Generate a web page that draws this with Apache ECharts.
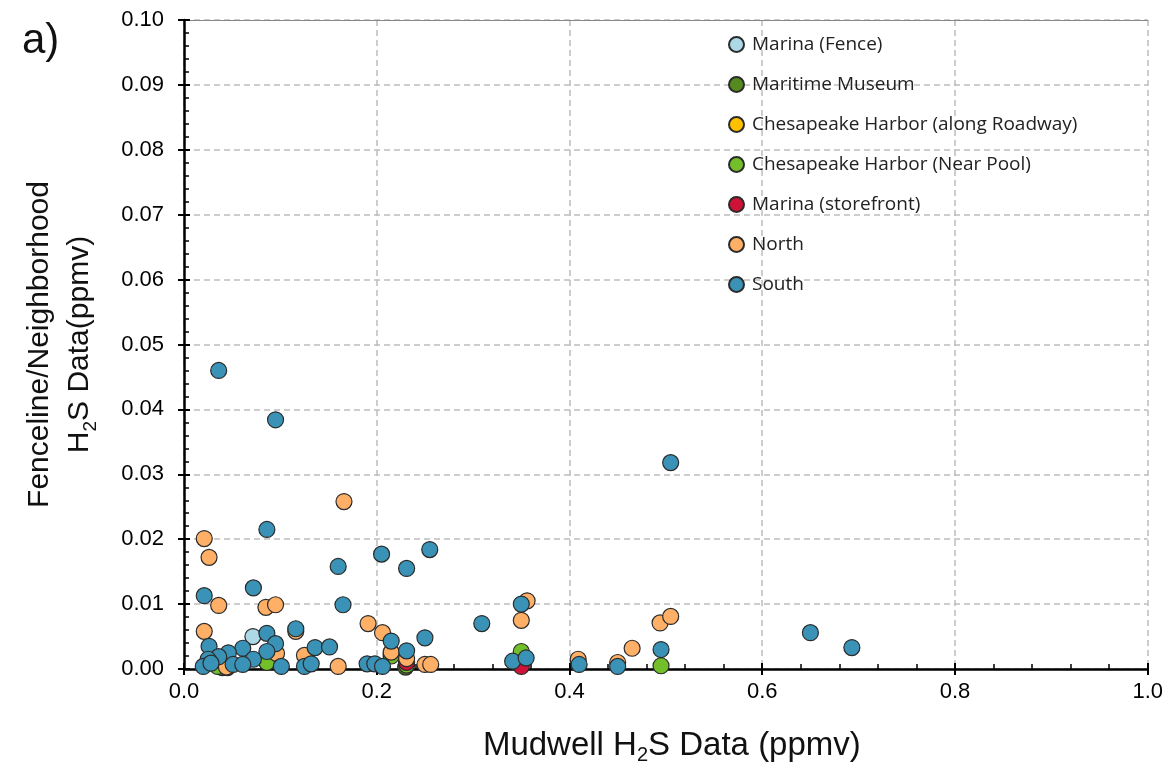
<!DOCTYPE html>
<html>
<head>
<meta charset="utf-8">
<script src="https://cdn.jsdelivr.net/npm/echarts@6/dist/echarts.min.js"></script>
<style>
  html, body { margin: 0; padding: 0; background: #fff; }
  #chart { width: 1166px; height: 770px; }
</style>
</head>
<body>
<div id="chart"></div>
<script>
  // site names, in legend order
  var siteNames = [
    'Marina (Fence)',
    'Maritime Museum',
    'Chesapeake Harbor (along Roadway)',
    'Chesapeake Harbor (Near Pool)',
    'Marina (storefront)',
    'North',
    'South'
  ];

  var siteColors = ['#add8e6', '#548a1e', '#ffc000', '#72bf2a', '#cf1238', '#ffb066', '#3a93b6'];

  // [mudwell, fenceline] pairs, ppmv
  var marinaFence = [[0.0715, 0.0050]];
  var maritimeMuseum = [[0.040, 0.0002], [0.230, 0.0003]];
  var harborRoadway = [[0.215, 0.0023], [0.231, 0.0012]];
  var harborPool = [[0.035, 0.0004], [0.086, 0.0010], [0.215, 0.0020], [0.231, 0.0006], [0.350, 0.0027], [0.495, 0.0005]];
  var marinaStore = [[0.045, 0.0002], [0.231, 0.0010], [0.350, 0.0004]];
  var north = [
    [0.166, 0.0258], [0.021, 0.0201], [0.026, 0.0172], [0.036, 0.0098], [0.085, 0.0095],
    [0.095, 0.0099], [0.021, 0.0058], [0.116, 0.0058], [0.096, 0.0024], [0.125, 0.0021],
    [0.044, 0.0003], [0.160, 0.0004], [0.191, 0.0070], [0.206, 0.0056], [0.215, 0.0026],
    [0.231, 0.0016], [0.250, 0.0007], [0.256, 0.0007], [0.356, 0.0105], [0.350, 0.0075],
    [0.409, 0.0015], [0.450, 0.0010], [0.465, 0.0032], [0.494, 0.0071], [0.505, 0.0081]
  ];
  var south = [
    [0.036, 0.0460], [0.095, 0.0384], [0.505, 0.0318], [0.086, 0.0215], [0.255, 0.0184],
    [0.205, 0.0177], [0.160, 0.0158], [0.231, 0.0155], [0.072, 0.0125], [0.021, 0.0113],
    [0.165, 0.0099], [0.350, 0.0100], [0.309, 0.0070], [0.650, 0.0056], [0.693, 0.0033],
    [0.116, 0.0062], [0.086, 0.0055], [0.215, 0.0043], [0.250, 0.0048], [0.231, 0.0028],
    [0.095, 0.0039], [0.026, 0.0035], [0.061, 0.0032], [0.086, 0.0027], [0.046, 0.0025],
    [0.036, 0.0019], [0.025, 0.0015], [0.072, 0.0015], [0.020, 0.0004], [0.028, 0.0009],
    [0.051, 0.0007], [0.061, 0.0007], [0.101, 0.0004], [0.125, 0.0004], [0.132, 0.0008],
    [0.136, 0.0033], [0.151, 0.0034], [0.190, 0.0008], [0.198, 0.0008], [0.206, 0.0004],
    [0.341, 0.0012], [0.355, 0.0017], [0.410, 0.0007], [0.450, 0.0004], [0.495, 0.0030]
  ];

  var siteData = [marinaFence, maritimeMuseum, harborRoadway, harborPool, marinaStore, north, south];

  var font = '"Liberation Sans", Arial, sans-serif';
  var gridDash = { color: '#bdbdbd', width: 1.5, type: [6, 4] };

  var chart = echarts.init(document.getElementById('chart'));

  var series = [];
  for (var i = 0; i < siteNames.length; i++) {
    series.push({
      name: siteNames[i],
      type: 'scatter',
      xAxisIndex: 0,
      yAxisIndex: 0,
      symbolSize: 16,
      data: siteData[i],
      itemStyle: { color: siteColors[i], borderColor: '#2b2b2b', borderWidth: 1.2, opacity: 1 },
      animation: false
    });
  }

  chart.setOption({
    graphic: [{
      type: 'text',
      left: 22,
      top: 20,
      style: { text: 'a)', font: '42px ' + font, fill: '#111' }
    }],
    legend: {
      data: siteNames,
      orient: 'vertical',
      left: 723,
      top: 30,
      icon: 'circle',
      itemWidth: 15,
      itemHeight: 15,
      itemGap: 21,
      textStyle: { fontFamily: '"Open Sans", sans-serif', fontSize: 19, lineHeight: 18, color: '#222', padding: [0, 0, 0, 3] }
    },
    grid: { left: 184, right: 17, top: 20, bottom: 100 },
    xAxis: [{
      type: 'value',
      min: 0, max: 1, interval: 0.2,
      position: 'bottom',
      axisLine: { lineStyle: { color: '#000', width: 2.5 } },
      axisTick: { inside: true, length: 6, lineStyle: { color: '#000', width: 2 } },
      minorTick: { show: true, splitNumber: 5, length: 5, lineStyle: { color: '#000', width: 1.5 } },
      axisLabel: {
        margin: 12, color: '#000', fontFamily: font, fontSize: 22,
        formatter: function (v) { return v.toFixed(1); }
      },
      splitLine: { show: true, lineStyle: gridDash },
      name: 'Mudwell H{sub|2}S Data (ppmv)',
      nameLocation: 'middle',
      nameGap: 58,
      nameTextStyle: {
        color: '#111', fontFamily: font, fontSize: 33, padding: [0, 0, 0, 12],
        rich: { sub: { fontSize: 20, verticalAlign: 'bottom', padding: [18, 0, 0, 0], fontFamily: font, color: '#111' } }
      }
    }, {
      type: 'value',
      min: 0, max: 1, interval: 0.2,
      position: 'bottom',
      axisLine: { show: false },
      axisTick: { inside: false, length: 6, lineStyle: { color: '#000', width: 2 } },
      axisLabel: { show: false },
      splitLine: { show: false }
    }, {
      type: 'value',
      min: 0, max: 1, interval: 0.2,
      position: 'top',
      axisLine: { lineStyle: { color: '#888', width: 1 } },
      axisTick: { show: false },
      axisLabel: { show: false },
      splitLine: { show: false }
    }],
    yAxis: [{
      type: 'value',
      min: 0, max: 0.1, interval: 0.01,
      position: 'left',
      axisLine: { lineStyle: { color: '#000', width: 2.5 } },
      axisTick: { inside: true, length: 6, lineStyle: { color: '#000', width: 2 } },
      minorTick: { show: true, splitNumber: 5, length: 5, lineStyle: { color: '#000', width: 1.5 } },
      axisLabel: {
        margin: 20, color: '#000', fontFamily: font, fontSize: 22,
        formatter: function (v) { return v.toFixed(2); }
      },
      splitLine: { show: true, lineStyle: gridDash },
      name: 'Fenceline/Neighborhood\nH{sub|2}S Data(ppmv)',
      nameLocation: 'middle',
      nameGap: 84,
      nameTextStyle: {
        color: '#111', fontFamily: font, fontSize: 30, lineHeight: 40,
        rich: { sub: { fontSize: 19, verticalAlign: 'bottom', padding: [16, 0, 0, 0], fontFamily: font, color: '#111', lineHeight: 40 } }
      }
    }, {
      type: 'value',
      min: 0, max: 0.1, interval: 0.01,
      position: 'left',
      axisLine: { show: false },
      axisTick: { inside: false, length: 6, lineStyle: { color: '#000', width: 2 } },
      axisLabel: { show: false },
      splitLine: { show: false }
    }],
    series: series
  });
</script>
</body>
</html>
